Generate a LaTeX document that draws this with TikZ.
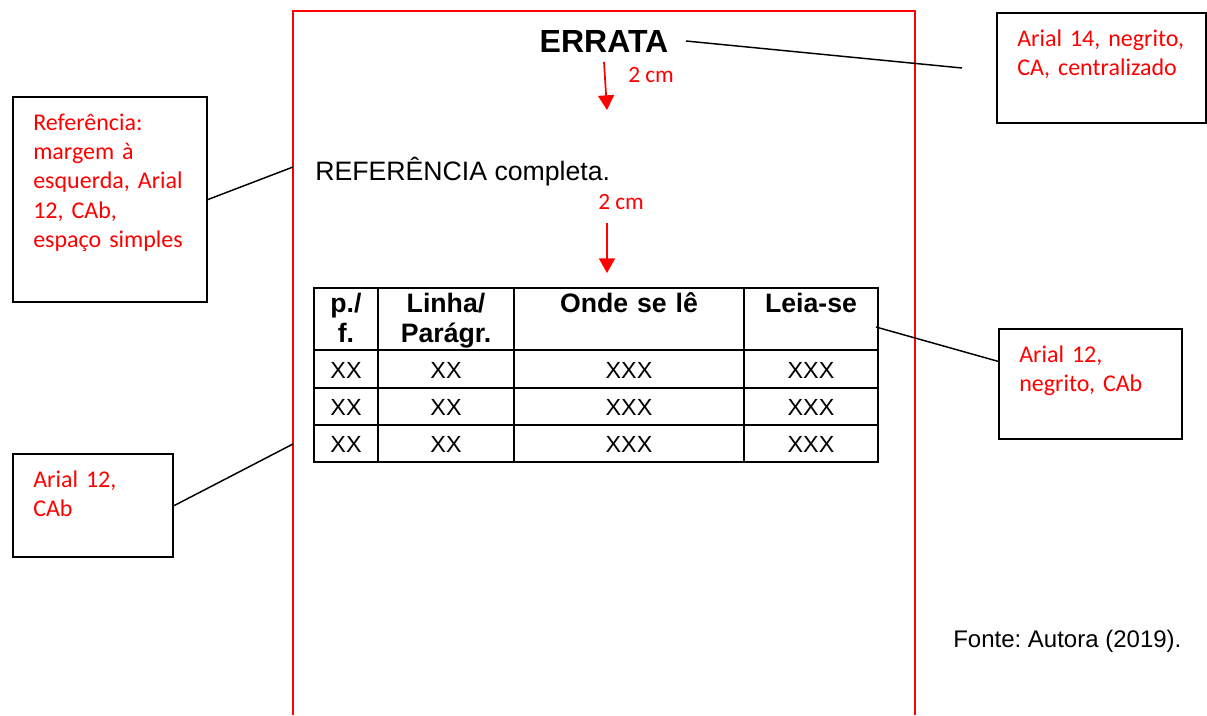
\documentclass[tikz,border=0pt]{standalone}
\usepackage{fontspec}
\setmainfont{Liberation Sans}
\newfontfamily\notefont{Carlito}
\usetikzlibrary{arrows.meta}
\frenchspacing

\begin{document}
\begin{tikzpicture}[x=0.75pt,y=-0.75pt]
	\tikzstyle{box} = [draw,line width=1.5pt,anchor=north west,inner sep=0pt]
	\tikzstyle{note} = [anchor=base west,inner sep=0pt,text=red,text width=150pt,align=left,font=\notefont\fontsize{18}{22}\selectfont]
	\tikzstyle{link} = [line width=1.1pt]
	\tikzstyle{gap} = [red,line width=1.3pt,-{Triangle[length=11pt,width=12pt]}]
	\tikzstyle{head} = [anchor=base,inner sep=0pt,text width=160pt,align=center,font=\bfseries\fontsize{20}{23}\selectfont]
	\tikzstyle{cell} = [anchor=base,inner sep=0pt,font=\fontsize{17.5}{21}\selectfont]

	\useasboundingbox (0,0) rectangle (1207,715);

	% folha
	\draw[red,line width=1.5pt] (293,715) -- (293,11) -- (915,11) -- (915,715);
	\coordinate (pgL1) at (293,167);
	\coordinate (pgL2) at (293,444);

	\node[anchor=base,inner sep=0pt,font=\bfseries\fontsize{24}{28}\selectfont] (title) at (604,52) {ERRATA};
	\node[anchor=base west,inner sep=0pt,font=\fontsize{20}{24}\selectfont] (ref) at (315,180) {REFERÊNCIA completa.};

	% espacos de 2 cm
	\coordinate (a1s) at (604,62);
	\coordinate (a1e) at (607,110);
	\coordinate (a2s) at (607,223);
	\coordinate (a2e) at (607,273);
	\draw[gap] (a1s) -- (a1e);
	\draw[gap] (a2s) -- (a2e);
	\node[anchor=base west,inner sep=0pt,text=red,font=\notefont\fontsize{17.5}{21}\selectfont] (cm1) at (628,82) {2 cm};
	\node[anchor=base west,inner sep=0pt,text=red,font=\notefont\fontsize{17.5}{21}\selectfont] (cm2) at (598,209) {2 cm};

	% tabela
	\begin{scope}[line width=1.5pt]
		\draw (314,288) rectangle (878,462);
		\foreach \x in {378,514,744}
			\draw (\x,288) -- (\x,462);
		\foreach \y in {350,388,425}
			\draw (314,\y) -- (878,\y);
	\end{scope}
	\coordinate (tabR) at (876,327);

	\node[head] (h1) at (346,312) {p./\\f.};
	\node[head] (h2) at (446,312) {Linha/\\Parágr.};
	\node[head] (h3) at (629,312) {Onde se lê};
	\node[head] (h4) at (811,312) {Leia-se};
	\foreach \y/\r in {378/1,415/2,452/3} {
		\node[cell] (pf\r) at (346,\y) {XX};
		\node[cell] (li\r) at (446,\y) {XX};
		\node[cell] (on\r) at (629,\y) {XXX};
		\node[cell] (le\r) at (811,\y) {XXX};
	}

	\node[anchor=base west,inner sep=0pt,font=\fontsize{18}{22}\selectfont] (fonte) at (953,647) {Fonte: Autora (2019).};

	% caixas de nota
	\node[box,minimum width=145.5pt,minimum height=153.75pt] (refbox) at (12,96) {};
	\node[note] (reftxt) at (33,130) {Referência:\\margem à\\esquerda, Arial\\12, CAb,\\espaço simples};

	\node[box,minimum width=156.75pt,minimum height=82.5pt] (titbox) at (996,12) {};
	\node[note] (tittxt) at (1017,46) {Arial 14, negrito,\\CA, centralizado};

	\node[box,minimum width=137.25pt,minimum height=82.5pt] (tabbox) at (998,328) {};
	\node[note] (tabtxt) at (1019,362) {Arial 12,\\negrito, CAb};

	\node[box,minimum width=120pt,minimum height=77.5pt] (txtbox) at (12,453) {};
	\node[note] (txttxt) at (33,487) {Arial 12,\\CAb};

	% ligacoes
	\coordinate (titEnd) at (962,68);
	\begin{scope}[link]
		\draw ([xshift=13pt]title.east) -- (titEnd);
		\draw (refbox.east) -- (pgL1);
		\draw (tabR) -- ([yshift=17pt]tabbox.west);
		\draw (txtbox.east) -- (pgL2);
	\end{scope}
\end{tikzpicture}
\end{document}
